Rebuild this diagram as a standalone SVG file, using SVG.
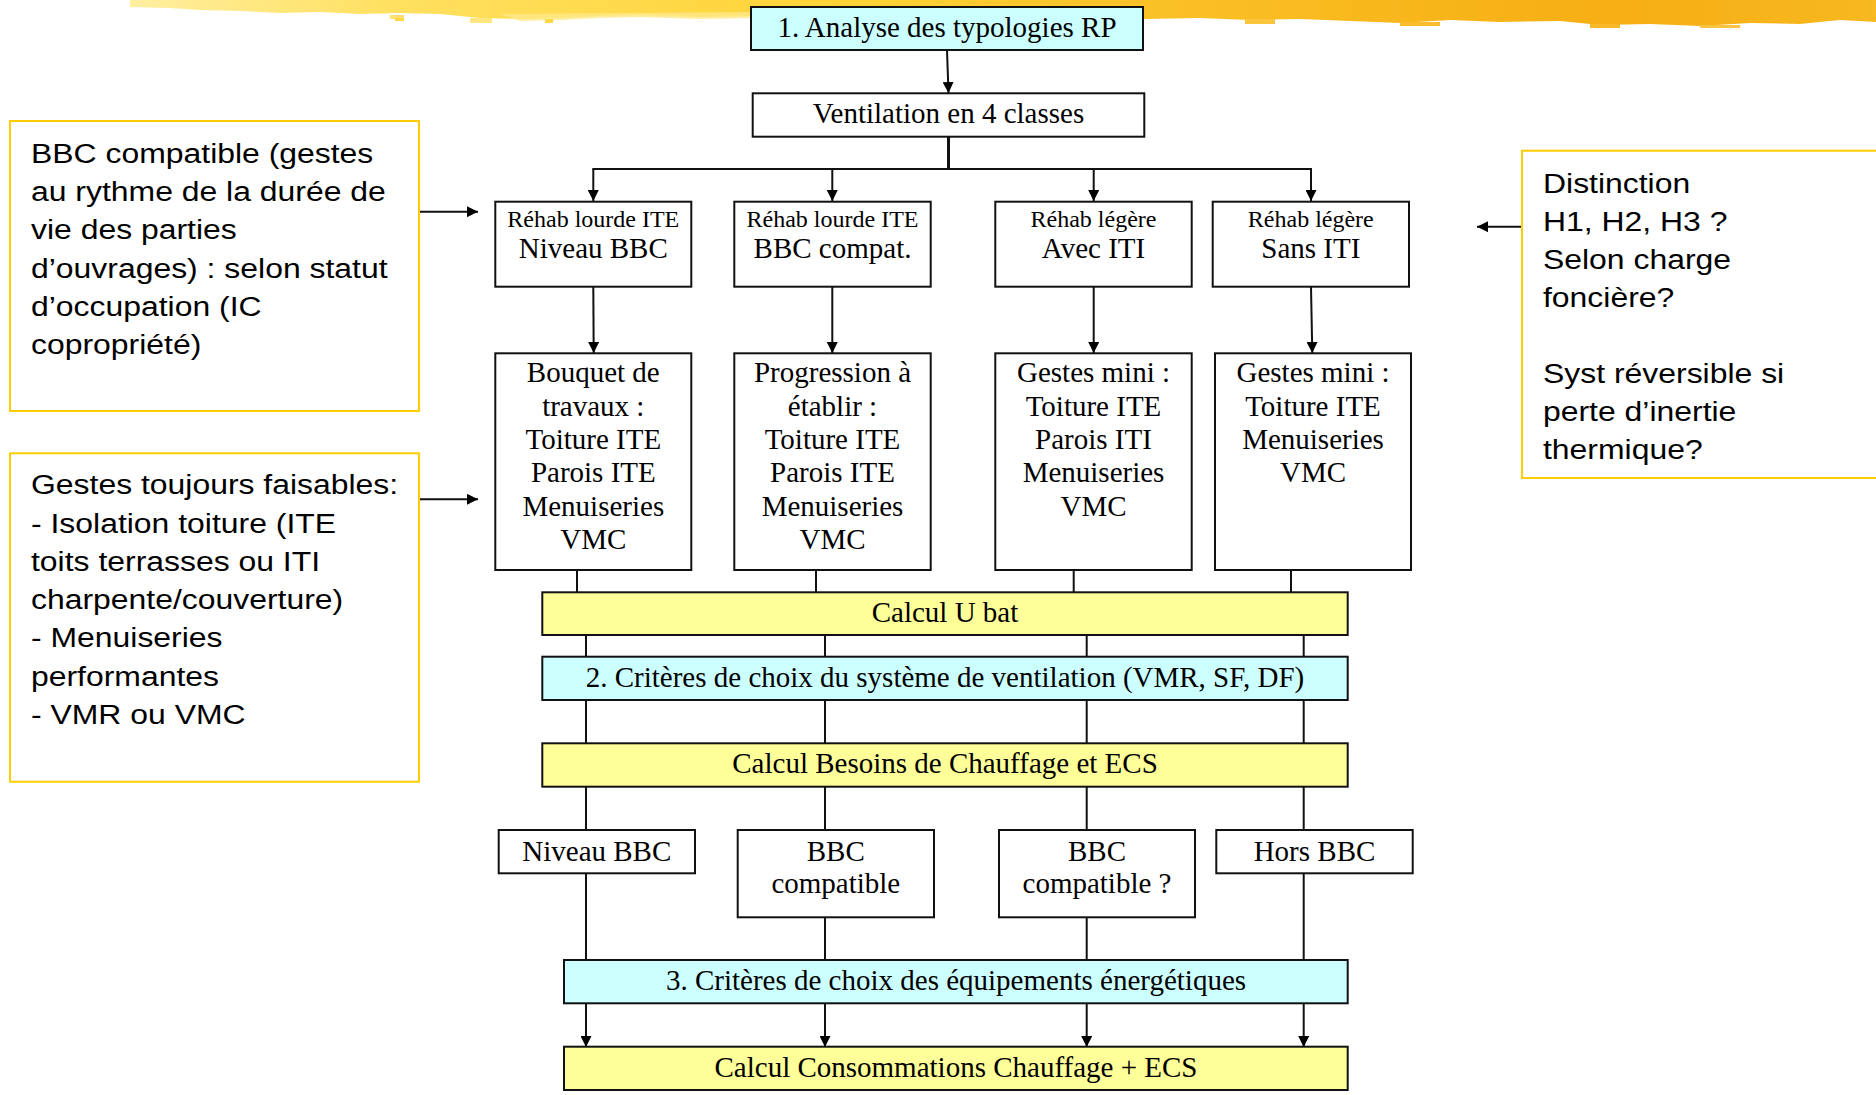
<svg xmlns="http://www.w3.org/2000/svg" width="1876" height="1095" viewBox="0 0 1876 1095">
<style>
.box{fill:#fff;stroke:#111;stroke-width:2}
.cy{fill:#CCFFFF;stroke:#111;stroke-width:2}
.ye{fill:#FFFF99;stroke:#111;stroke-width:2}
.note{fill:#fff;stroke:#FFCC00;stroke-width:2}
.t{font-family:"Liberation Serif","Times New Roman",serif;font-size:29px;text-anchor:middle;fill:#000}
.ts{font-family:"Liberation Serif","Times New Roman",serif;font-size:24px;text-anchor:middle;fill:#000}
.a{font-family:"Liberation Sans",Arial,sans-serif;font-size:28px;fill:#000}
.c{fill:none;stroke:#111;stroke-width:2}
.ca{fill:none;stroke:#111;stroke-width:2;marker-end:url(#ah)}
</style>
<defs>
<marker id="ah" markerUnits="userSpaceOnUse" markerWidth="11" markerHeight="11" refX="10" refY="5" orient="auto" viewBox="0 0 10 10">
<path d="M0,0 L10,5 L0,10 z" fill="#000"/>
</marker>
<linearGradient id="brush" x1="0" y1="0" x2="1" y2="0">
<stop offset="0" stop-color="#FFEFA0"/>
<stop offset="0.15" stop-color="#FFE060"/>
<stop offset="0.4" stop-color="#FFD438"/>
<stop offset="0.6" stop-color="#FAC024"/>
<stop offset="0.85" stop-color="#F6AE14"/>
<stop offset="1" stop-color="#F8B820"/>
</linearGradient>
</defs>

<g id="brush-strip">
<polygon fill="url(#brush)" points="130,0 1876,0 1876,22 1840,20 1800,24 1750,23 1700,26 1650,24 1600,25 1560,21 1500,22 1450,20 1400,23 1350,21 1300,19 1250,20 1200,18 1143,19 751,16 700,17 640,15 600,16 560,18 520,19 480,18 440,14 400,13 360,14 320,12 280,13 240,11 200,10 170,8 130,7"/>
<polygon fill="#FFE888" opacity="0.8" points="500,14 760,12 760,18 700,19 640,17 600,18 560,20 520,21"/>
<rect x="390" y="15" width="14" height="4" fill="#FFE070"/>
<rect x="470" y="18" width="22" height="5" fill="#FFE680"/>
<rect x="395" y="18" width="9" height="3" fill="#FFD740"/>
<rect x="545" y="19" width="8" height="4" fill="#FFD740"/>
<rect x="1245" y="19" width="30" height="5" fill="#FAC53A"/>
<rect x="1400" y="22" width="40" height="4" fill="#F9BC2C"/>
<rect x="1590" y="24" width="30" height="4" fill="#F8B82A"/>
<rect x="1700" y="25" width="40" height="3" fill="#FAC440"/>
</g>

<g id="connectors">
<line class="ca" x1="947" y1="50" x2="948.5" y2="93"/>
<line x1="948.5" y1="137" x2="948.5" y2="169" stroke="#111" stroke-width="3"/>
<line class="c" x1="592.3" y1="169" x2="1312" y2="169"/>
<line class="ca" x1="593.3" y1="169" x2="593.3" y2="201"/>
<line class="ca" x1="832.3" y1="169" x2="832.3" y2="201"/>
<line class="ca" x1="1093.7" y1="169" x2="1093.7" y2="201"/>
<line class="ca" x1="1311" y1="169" x2="1311" y2="201"/>
<line class="ca" x1="593.3" y1="287" x2="593.7" y2="353"/>
<line class="ca" x1="832.3" y1="287" x2="832.3" y2="353"/>
<line class="ca" x1="1093.7" y1="287" x2="1093.7" y2="353"/>
<line class="ca" x1="1311" y1="287" x2="1312.3" y2="353"/>
<line class="c" x1="577" y1="570" x2="577" y2="592"/>
<line class="c" x1="816" y1="570" x2="816" y2="592"/>
<line class="c" x1="1073.7" y1="570" x2="1073.7" y2="592"/>
<line class="c" x1="1291" y1="570" x2="1291" y2="592"/>
<line class="c" x1="586" y1="635" x2="586" y2="657"/>
<line class="c" x1="825" y1="635" x2="825" y2="657"/>
<line class="c" x1="1086.7" y1="635" x2="1086.7" y2="657"/>
<line class="c" x1="1303.7" y1="635" x2="1303.7" y2="657"/>
<line class="c" x1="586" y1="700" x2="586" y2="743"/>
<line class="c" x1="825" y1="700" x2="825" y2="743"/>
<line class="c" x1="1086.7" y1="700" x2="1086.7" y2="743"/>
<line class="c" x1="1303.7" y1="700" x2="1303.7" y2="743"/>
<line class="c" x1="586" y1="787" x2="586" y2="830"/>
<line class="c" x1="825" y1="787" x2="825" y2="830"/>
<line class="c" x1="1086.7" y1="787" x2="1086.7" y2="830"/>
<line class="c" x1="1303.7" y1="787" x2="1303.7" y2="830"/>
<line class="c" x1="586" y1="873.3" x2="586" y2="960"/>
<line class="c" x1="825" y1="917.3" x2="825" y2="960"/>
<line class="c" x1="1086.7" y1="917.3" x2="1086.7" y2="960"/>
<line class="c" x1="1303.7" y1="873.3" x2="1303.7" y2="960"/>
<line class="ca" x1="586" y1="1003" x2="586" y2="1047"/>
<line class="ca" x1="825" y1="1003" x2="825" y2="1047"/>
<line class="ca" x1="1086.7" y1="1003" x2="1086.7" y2="1047"/>
<line class="ca" x1="1303.7" y1="1003" x2="1303.7" y2="1047"/>
<line class="ca" x1="419" y1="211.7" x2="478" y2="211.7"/>
<line class="ca" x1="419" y1="499.3" x2="478" y2="499.3"/>
<line class="ca" x1="1522" y1="226.7" x2="1477" y2="226.7"/>
</g>

<g id="n-analyse">
<rect x="751" y="7" width="392" height="43" class="cy" stroke-width="2.5"/>
<text class="t" x="947" y="37.3">1. Analyse des typologies RP</text>
</g>
<g id="n-ventilation">
<rect x="752.7" y="93.3" width="391.6" height="43.4" class="box"/>
<text class="t" x="948.5" y="123.3">Ventilation en 4 classes</text>
</g>

<g id="n-classe1">
<rect x="495.3" y="201.7" width="196" height="85" class="box"/>
<text class="ts" x="593.3" y="227.3">Réhab lourde ITE</text>
<text class="t" x="593.3" y="258.3">Niveau BBC</text>
</g>
<g id="n-classe2">
<rect x="734.3" y="201.7" width="196.4" height="85" class="box"/>
<text class="ts" x="832.5" y="227.3">Réhab lourde ITE</text>
<text class="t" x="832.5" y="258.3">BBC compat.</text>
</g>
<g id="n-classe3">
<rect x="995.3" y="201.7" width="196.4" height="85" class="box"/>
<text class="ts" x="1093.5" y="227.3">Réhab légère</text>
<text class="t" x="1093.5" y="258.3">Avec ITI</text>
</g>
<g id="n-classe4">
<rect x="1212.7" y="201.7" width="196.3" height="85" class="box"/>
<text class="ts" x="1310.8" y="227.3">Réhab légère</text>
<text class="t" x="1310.8" y="258.3">Sans ITI</text>
</g>

<g id="n-gestes1">
<rect x="495.3" y="353.3" width="196" height="216.7" class="box"/>
<text class="t" x="593.3" y="382.3">Bouquet de</text>
<text class="t" x="593.3" y="415.6">travaux :</text>
<text class="t" x="593.3" y="448.9">Toiture ITE</text>
<text class="t" x="593.3" y="482.2">Parois ITE</text>
<text class="t" x="593.3" y="515.5">Menuiseries</text>
<text class="t" x="593.3" y="548.8">VMC</text>
</g>
<g id="n-gestes2">
<rect x="734.3" y="353.3" width="196.4" height="216.7" class="box"/>
<text class="t" x="832.5" y="382.3">Progression à</text>
<text class="t" x="832.5" y="415.6">établir :</text>
<text class="t" x="832.5" y="448.9">Toiture ITE</text>
<text class="t" x="832.5" y="482.2">Parois ITE</text>
<text class="t" x="832.5" y="515.5">Menuiseries</text>
<text class="t" x="832.5" y="548.8">VMC</text>
</g>
<g id="n-gestes3">
<rect x="995.3" y="353.3" width="196.4" height="216.7" class="box"/>
<text class="t" x="1093.5" y="382.3">Gestes mini :</text>
<text class="t" x="1093.5" y="415.6">Toiture ITE</text>
<text class="t" x="1093.5" y="448.9">Parois ITI</text>
<text class="t" x="1093.5" y="482.2">Menuiseries</text>
<text class="t" x="1093.5" y="515.5">VMC</text>
</g>
<g id="n-gestes4">
<rect x="1215" y="353.3" width="196" height="216.7" class="box"/>
<text class="t" x="1313" y="382.3">Gestes mini :</text>
<text class="t" x="1313" y="415.6">Toiture ITE</text>
<text class="t" x="1313" y="448.9">Menuiseries</text>
<text class="t" x="1313" y="482.2">VMC</text>
</g>

<g id="n-ubat">
<rect x="542.3" y="592.3" width="805.4" height="42.7" class="ye"/>
<text class="t" x="945" y="621.7">Calcul U bat</text>
</g>
<g id="n-criteres2">
<rect x="542.3" y="656.7" width="805.4" height="43.3" class="cy"/>
<text class="t" x="945" y="686.7">2. Critères de choix du système de ventilation (VMR, SF, DF)</text>
</g>
<g id="n-besoins">
<rect x="542.3" y="743.3" width="805.4" height="43.4" class="ye"/>
<text class="t" x="945" y="773.3">Calcul Besoins de Chauffage et ECS</text>
</g>

<g id="n-niveau">
<rect x="498.7" y="830" width="196.3" height="43.3" class="box"/>
<text class="t" x="596.8" y="860.7">Niveau BBC</text>
</g>
<g id="n-compat">
<rect x="737.7" y="830" width="196.3" height="87.3" class="box"/>
<text class="t" x="835.8" y="860.7">BBC</text>
<text class="t" x="835.8" y="893.3">compatible</text>
</g>
<g id="n-compat-q">
<rect x="999" y="830" width="196" height="87.3" class="box"/>
<text class="t" x="1097" y="860.7">BBC</text>
<text class="t" x="1097" y="893.3">compatible ?</text>
</g>
<g id="n-hors">
<rect x="1216.3" y="830" width="196.4" height="43.3" class="box"/>
<text class="t" x="1314.5" y="860.7">Hors BBC</text>
</g>

<g id="n-criteres3">
<rect x="564" y="960" width="783.7" height="43.3" class="cy"/>
<text class="t" x="956" y="990">3. Critères de choix des équipements énergétiques</text>
</g>
<g id="n-conso">
<rect x="564" y="1046.7" width="783.7" height="43.3" class="ye"/>
<text class="t" x="956" y="1076.7">Calcul Consommations Chauffage + ECS</text>
</g>

<g id="note-bbc">
<rect x="10" y="121" width="409" height="290" class="note"/>
<g transform="translate(31,0) scale(1.14,1)">
<text class="a" x="0" y="162.7">BBC compatible (gestes</text>
<text class="a" x="0" y="201">au rythme de la durée de</text>
<text class="a" x="0" y="239.3">vie des parties</text>
<text class="a" x="0" y="277.6">d’ouvrages) : selon statut</text>
<text class="a" x="0" y="315.9">d’occupation (IC</text>
<text class="a" x="0" y="354.2">copropriété)</text>
</g>
</g>
<g id="note-gestes">
<rect x="10" y="453.3" width="409" height="328.4" class="note"/>
<g transform="translate(31,0) scale(1.14,1)">
<text class="a" x="0" y="494.3">Gestes toujours faisables:</text>
<text class="a" x="0" y="532.6">- Isolation toiture (ITE</text>
<text class="a" x="0" y="570.9">toits terrasses ou ITI</text>
<text class="a" x="0" y="609.2">charpente/couverture)</text>
<text class="a" x="0" y="647.5">- Menuiseries</text>
<text class="a" x="0" y="685.8">performantes</text>
<text class="a" x="0" y="724.1">- VMR ou VMC</text>
</g>
</g>
<g id="note-distinction">
<rect x="1522" y="150.7" width="400" height="327.3" class="note"/>
<g transform="translate(1543,0) scale(1.14,1)">
<text class="a" x="0" y="193.3">Distinction</text>
<text class="a" x="0" y="231.2">H1, H2, H3 ?</text>
<text class="a" x="0" y="269.1">Selon charge</text>
<text class="a" x="0" y="307">foncière?</text>
<text class="a" x="0" y="382.8">Syst réversible si</text>
<text class="a" x="0" y="420.7">perte d’inertie</text>
<text class="a" x="0" y="458.6">thermique?</text>
</g>
</g>
</svg>
